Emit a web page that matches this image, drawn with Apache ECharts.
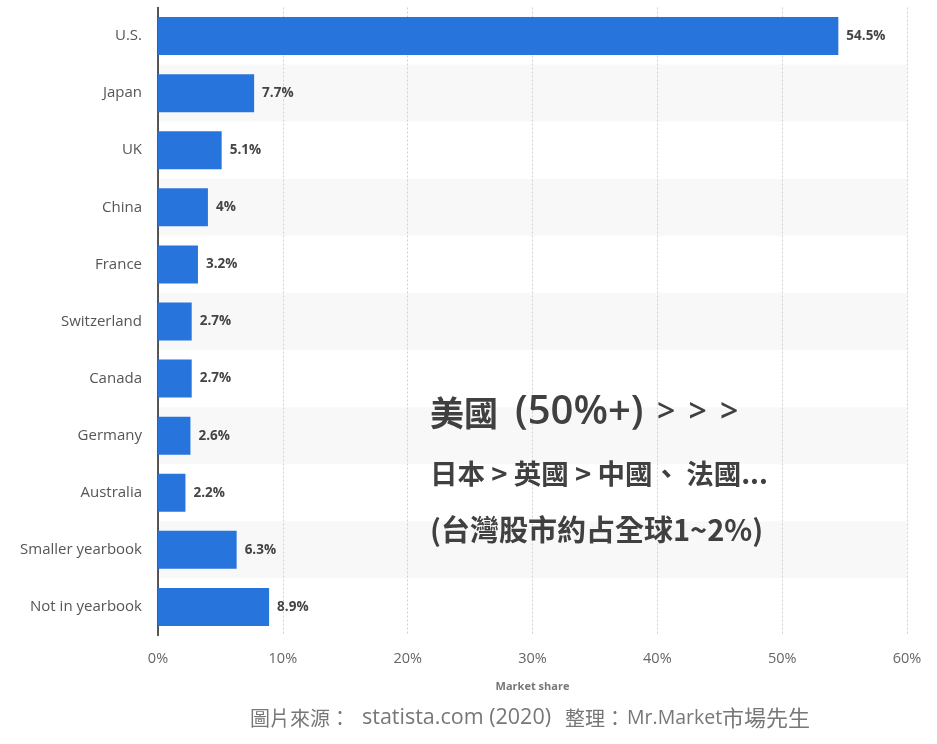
<!DOCTYPE html>
<html><head><meta charset="utf-8">
<script src="https://cdn.jsdelivr.net/npm/echarts@6/dist/echarts.min.js"></script>
<style>html,body{margin:0;padding:0;background:#fff}#c{width:937px;height:744px}</style>
</head><body><div id="c"></div>
<script>
const categories = ['U.S.','Japan','UK','China','France','Switzerland','Canada','Germany','Australia','Smaller yearbook','Not in yearbook'];
const shares = [54.5, 7.7, 5.1, 4, 3.2, 2.7, 2.7, 2.6, 2.2, 6.3, 8.9];
const xTicks = [0, 10, 20, 30, 40, 50, 60];
const axisTitle = 'Market share';
const note1 = ['美國', '(50%+)', '>'];
const note2 = '日本 > 英國 > 中國、 法國...';
const note3 = '(台灣股市約占全球1~2%)';
const sourceParts = ['圖片來源：', 'statista.com (2020)', '整理：', 'Mr.Market', '市場先生'];

const chart = echarts.init(document.getElementById('c'), null, {renderer:'canvas'});
const cjk = '"Noto Sans CJK TC", sans-serif';
const latin = '"Open Sans", "Noto Sans CJK TC", sans-serif';
const dark = '#404040';
chart.setOption({
  animation: false,
  grid: {left: 158, right: 30, top: 7.5, bottom: 108.5, containLabel: false},
  xAxis: {
    type: 'value', min: xTicks[0], max: xTicks[xTicks.length-1], interval: 10,
    name: axisTitle, nameLocation: 'middle', nameGap: 46,
    nameTextStyle: {color: '#777', fontSize: 11, fontWeight: 'bold', fontFamily: latin},
    axisLine: {show: false}, axisTick: {show: false},
    axisLabel: {formatter: v => v + '%', color: '#666', fontSize: 14.5, margin: 16, fontFamily: latin},
    splitLine: {show: true, lineStyle: {color: '#d0d0d0', type: [2, 2], width: 1}}
  },
  yAxis: {
    type: 'category', data: categories, inverse: true,
    axisLine: {show: true, lineStyle: {color: '#222', width: 1.5}},
    axisTick: {show: false},
    axisLabel: {color: '#555', fontSize: 15, margin: 16, fontFamily: latin},
    splitArea: {show: true, areaStyle: {color: ['#ffffff', '#f8f8f8']}}
  },
  series: [{
    type: 'bar', data: shares, barWidth: 38,
    itemStyle: {color: '#2774dc'},
    label: {show: true, position: 'right', distance: 8, formatter: p => p.value + '%',
      color: '#444', fontSize: 13.5, fontWeight: 'bold', fontFamily: latin}
  }],
  graphic: [
    {type: 'text', z: 100, style: {
      x: 430, y: 413, verticalAlign: 'middle',
      text: '{a|' + note1[0] + '}{b|' + note1[1] + '}{c|' + note1[2] + '}{c|' + note1[2] + '}{c|' + note1[2] + '}',
      rich: {
        a: {fontSize: 34, fontWeight: 'bold', fontFamily: cjk, fill: dark, color: dark, width: 85},
        b: {fontSize: 40, fontWeight: 600, fontFamily: latin, fill: dark, color: dark, width: 142},
        c: {fontSize: 32, fontWeight: 600, fontFamily: latin, fill: dark, color: dark, width: 31.5}
      }}},
    {type: 'text', z: 100, style: {x: 430, y: 474, verticalAlign: 'middle', text: note2,
      fontSize: 27.5, fontWeight: 'bold', fontFamily: cjk, fill: dark}},
    {type: 'text', z: 100, style: {x: 430, y: 530, verticalAlign: 'middle', text: note3,
      fontSize: 29, fontWeight: 'bold', fontFamily: cjk, fill: dark}},
    {type: 'text', z: 100, style: {
      x: 250, y: 718, verticalAlign: 'middle',
      text: '{s1|' + sourceParts[0] + '}{s2|' + sourceParts[1] + '}{s3|' + sourceParts[2] + '}{s4|' + sourceParts[3] + '}{s5|' + sourceParts[4] + '}',
      rich: {
        s1: {fontSize: 20, fontFamily: cjk, fill: '#777', color: '#777', width: 112},
        s2: {fontSize: 21.5, fontFamily: latin, fill: '#777', color: '#777', width: 203},
        s3: {fontSize: 20, fontFamily: cjk, fill: '#777', color: '#777', width: 62},
        s4: {fontSize: 19.5, fontFamily: latin, fill: '#777', color: '#777', width: 95},
        s5: {fontSize: 22, fontFamily: cjk, fill: '#777', color: '#777', width: 92}
      }}}
  ]
});
</script></body></html>
